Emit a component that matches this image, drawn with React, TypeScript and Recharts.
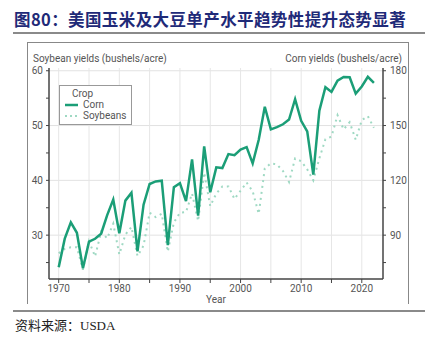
import {
  LineChart,
  Line,
  XAxis,
  YAxis,
  ReferenceLine,
} from "recharts";

const years = [
  1970, 1971, 1972, 1973, 1974, 1975, 1976, 1977, 1978, 1979,
  1980, 1981, 1982, 1983, 1984, 1985, 1986, 1987, 1988, 1989,
  1990, 1991, 1992, 1993, 1994, 1995, 1996, 1997, 1998, 1999,
  2000, 2001, 2002, 2003, 2004, 2005, 2006, 2007, 2008, 2009,
  2010, 2011, 2012, 2013, 2014, 2015, 2016, 2017, 2018, 2019,
  2020, 2021, 2022,
];

const corn = [
  72.4, 88.1, 97.0, 91.3, 71.9, 86.4, 88.0, 90.8, 101.0, 109.5,
  91.0, 108.9, 113.2, 81.1, 106.7, 118.0, 119.4, 119.8, 84.6, 116.3,
  118.5, 108.6, 131.5, 100.7, 138.6, 113.5, 127.1, 126.7, 134.4, 133.8,
  136.9, 138.2, 129.3, 142.2, 160.3, 147.9, 149.1, 150.7, 153.3, 164.4,
  152.6, 146.8, 123.1, 158.1, 171.0, 168.4, 174.6, 176.6, 176.4, 167.5,
  171.4, 176.7, 173.4,
];

const soybeans = [
  26.7, 27.5, 27.8, 27.8, 23.7, 28.9, 26.1, 30.6, 29.4, 32.1,
  26.5, 30.1, 31.5, 26.2, 28.1, 34.1, 33.3, 33.9, 27.0, 32.3,
  34.1, 34.2, 37.6, 32.6, 41.4, 35.3, 37.6, 38.9, 38.9, 36.6,
  38.1, 39.6, 38.0, 33.9, 42.2, 43.1, 42.9, 41.7, 39.7, 44.0,
  43.5, 42.0, 40.0, 44.0, 47.5, 48.0, 51.9, 49.3, 50.6, 47.4,
  51.0, 51.7, 49.6,
];

const yearTicks = [1970, 1975, 1980, 1985, 1990, 1995, 2000, 2005, 2010, 2015, 2020];
const soyTicks = [25, 30, 35, 40, 45, 50, 55, 60];
const cornTicks = [75, 90, 105, 120, 135, 150, 165, 180];
const soyGrid = [30, 40, 50, 60];

const data = years.map((year, i) => ({ year, corn: corn[i], soybeans: soybeans[i] }));

const GREEN = "#1b9e77";
const LIGHT = "#9fd9c3";
const AXIS = "#444";
const TEXT = "#555";
const font = '"Liberation Sans Narrow", "Roboto", sans-serif';

// legend drawn by hand so it doesn't eat into the plot height
const LegendBox = () => (
  <div
    style={{
      position: "absolute",
      left: 59,
      top: 85,
      border: "1px solid #999",
      background: "#fff",
      padding: "2px 5px 3px 4px",
      fontFamily: font,
      fontSize: 10,
      color: TEXT,
      lineHeight: "11px",
    }}
  >
    <div style={{ paddingLeft: 8 }}>Crop</div>
    <div style={{ display: "flex", alignItems: "center" }}>
      <svg width={16} height={10}>
        <line x1={1} x2={14} y1={5} y2={5} stroke={GREEN} strokeWidth={2.5} />
      </svg>
      <span style={{ marginLeft: 3 }}>Corn</span>
    </div>
    <div style={{ display: "flex", alignItems: "center" }}>
      <svg width={16} height={10}>
        <line x1={1} x2={14} y1={5} y2={5} stroke={LIGHT} strokeWidth={2} strokeDasharray="2 3" />
      </svg>
      <span style={{ marginLeft: 3 }}>Soybeans</span>
    </div>
  </div>
);

export default function App() {
  return (
    <div
      style={{
        position: "absolute",
        left: 0,
        top: 0,
        width: 438,
        height: 339,
        background: "#fff",
        overflow: "hidden",
      }}
    >
      <div
        style={{
          position: "absolute",
          left: 14,
          top: 7,
          fontFamily: '"Noto Sans CJK SC", sans-serif',
          fontWeight: 700,
          fontSize: 16.5,
          color: "#1f2a78",
          whiteSpace: "nowrap",
          letterSpacing: 0.4,
        }}
      >
        图80：美国玉米及大豆单产水平趋势性提升态势显著
      </div>
      <div style={{ position: "absolute", left: 13, top: 32, width: 412, height: 2, background: "#8a8a8a" }} />

      {/* chart frame, open at the bottom */}
      <div
        style={{
          position: "absolute",
          left: 27,
          top: 42,
          width: 380,
          height: 261,
          borderLeft: "1.5px solid #888",
          borderTop: "1.5px solid #888",
          borderRight: "1.5px solid #888",
        }}
      />

      <div style={{ position: "absolute", left: 33, top: 53, fontFamily: font, fontSize: 10, color: TEXT, whiteSpace: "nowrap" }}>
        Soybean yields (bushels/acre)
      </div>
      <div style={{ position: "absolute", right: 36, top: 53, fontFamily: font, fontSize: 10, color: TEXT, whiteSpace: "nowrap" }}>
        Corn yields (bushels/acre)
      </div>

      <div style={{ position: "absolute", left: 28, top: 43 }}>
        <LineChart width={381} height={262} data={data} margin={{ top: 25, right: 0, bottom: 0, left: 0 }}>
          {soyGrid.map((v) => (
            <ReferenceLine key={"h" + v} yAxisId="soy" y={v} stroke="#e2e2e2" strokeWidth={1} />
          ))}
          {yearTicks.map((v) => (
            <ReferenceLine key={"v" + v} yAxisId="soy" x={v} stroke="#e6e6e6" strokeWidth={1} />
          ))}
          <XAxis
            dataKey="year"
            type="number"
            domain={[1968.4, 2023.5]}
            ticks={yearTicks}
            tickFormatter={(v: number) => (v % 10 === 0 ? String(v) : "")}
            tick={{ fontSize: 10, fill: TEXT, fontFamily: font }}
            tickSize={4}
            tickMargin={2}
            axisLine={{ stroke: AXIS, strokeWidth: 1.5 }}
            tickLine={{ stroke: AXIS }}
            height={26}
            label={{ value: "Year", position: "insideBottom", offset: 2, fontSize: 10, fill: TEXT, fontFamily: font }}
          />
          <YAxis
            yAxisId="soy"
            domain={[22, 60.5]}
            ticks={soyTicks}
            tickFormatter={(v: number) => (v % 10 === 0 ? String(v) : "")}
            tick={{ fontSize: 10, fill: TEXT, fontFamily: font }}
            tickSize={3}
            tickMargin={3}
            axisLine={{ stroke: AXIS, strokeWidth: 1.5 }}
            tickLine={{ stroke: AXIS }}
            width={21}
          />
          <YAxis
            yAxisId="corn"
            orientation="right"
            domain={[66, 181.5]}
            ticks={cornTicks}
            tickFormatter={(v: number) => (v % 30 === 0 ? String(v) : "")}
            tick={{ fontSize: 10, fill: TEXT, fontFamily: font }}
            tickSize={3}
            tickMargin={4}
            axisLine={{ stroke: AXIS, strokeWidth: 1.5 }}
            tickLine={{ stroke: AXIS }}
            width={26}
          />
          <Line
            yAxisId="soy"
            dataKey="soybeans"
            stroke={LIGHT}
            strokeWidth={2}
            strokeDasharray="2 4"
            dot={false}
            isAnimationActive={false}
          />
          <Line
            yAxisId="corn"
            dataKey="corn"
            stroke={GREEN}
            strokeWidth={2.5}
            strokeLinejoin="miter"
            dot={false}
            isAnimationActive={false}
          />
        </LineChart>
      </div>

      <LegendBox />

      <div style={{ position: "absolute", left: 13, top: 310, width: 412, height: 2, background: "#8a8a8a" }} />
      <div
        style={{
          position: "absolute",
          left: 15,
          top: 315,
          fontFamily: '"Liberation Serif", "Noto Sans CJK SC", serif',
          fontSize: 13,
          color: "#222",
          whiteSpace: "nowrap",
        }}
      >
        资料来源：USDA
      </div>
    </div>
  );
}
